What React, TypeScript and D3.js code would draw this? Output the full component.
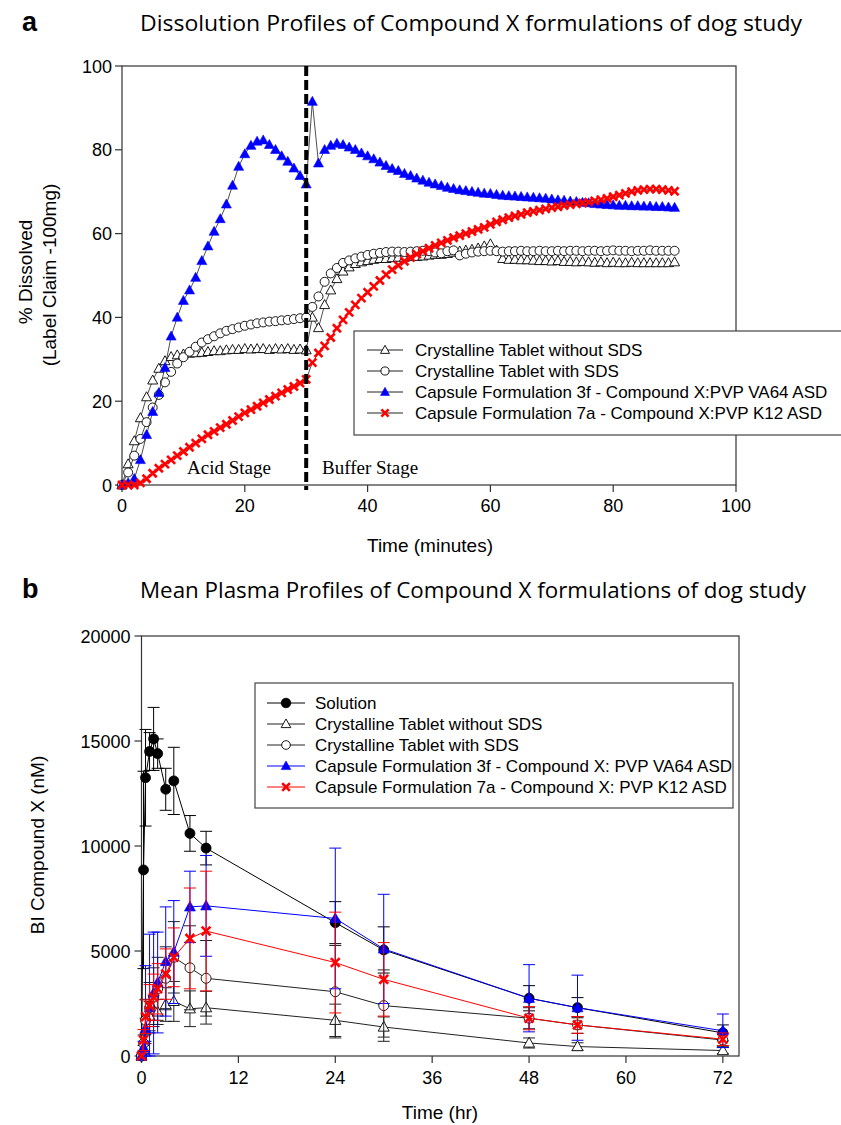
import React from 'react';
import * as d3 from 'd3';

// ---------- Panel a data (dissolution, % dissolved, sampled every minute) ----------
const minutes = d3.range(0, 91);
const tabletNoSds = [
  0, 5, 10.5, 16, 21, 25, 27.8, 29.6, 30.6, 31, 31.2, 31.4, 31.5, 31.6, 31.8, 32, 32, 32.2, 32.3, 32.3, 32.5,
  32.4, 32.5, 32.5, 32.3, 32.5, 32.4, 32.5, 32.3, 32.4, 32.2,
  40, 37.5, 43, 46.5, 49.2, 51, 52, 52.8, 53.2, 53.5, 53.8, 54, 54, 54.2, 54.3, 54.3, 54.5, 54.5, 54.6, 54.8,
  55, 55, 55.2, 55.5, 55.8, 56, 56.2, 56.5, 57, 57.5, 56, 54, 53.8, 53.8, 53.7, 53.7, 53.6, 53.5, 53.5, 53.4,
  53.5, 53.3, 53.3, 53.2, 53.3, 53.2, 53.1, 53.2, 53, 53.1, 53, 53, 53.1, 53, 53, 53, 53, 53, 53, 53.2,
];
const tabletSds = [
  0, 3, 7, 11, 15, 18.5, 21.5, 24.5, 27, 29, 30.5, 31.8, 33, 34, 34.8, 35.5, 36.2, 36.8, 37.2, 37.6, 38,
  38.3, 38.6, 38.8, 39, 39.1, 39.3, 39.4, 39.6, 39.8, 40,
  42.5, 45, 48.5, 50.5, 51.8, 53, 53.6, 54.1, 54.5, 54.9, 55.2, 55.4, 55.6, 55.7, 55.7, 55.6, 55.7, 55.8, 55.9, 55.8,
  55.5, 55.3, 55.8, 56, 54.8, 55.2, 55.5, 55.7, 55.8, 55.9, 55.8, 55.7, 55.8, 55.8, 55.9, 55.8, 55.8, 55.9, 55.8, 55.8,
  55.9, 55.8, 55.9, 55.9, 55.8, 55.9, 55.9, 55.8, 55.9, 56, 55.9, 55.9, 55.8, 55.9, 55.9, 56, 55.9, 55.9, 55.9, 55.9,
];
const capsule3f = [
  0, 0.5, 1.5, 6, 12, 17.5, 22, 28, 35.5, 40, 44, 46.5, 49.5, 53.5, 57, 60.5, 63.5, 67, 71.5, 76, 79,
  81, 82, 82.3, 81.2, 80, 78.5, 77.2, 75.6, 73.8, 71.8,
  91.5, 76.8, 80, 81, 81.5, 81.2, 80.6, 80, 79.2, 78.5, 77.8, 77, 76.2, 75.5, 75, 74.3, 73.8, 73.2, 72.7, 72.2,
  71.8, 71.4, 71, 70.7, 70.4, 70.2, 70, 69.8, 69.6, 69.5, 69.3, 69.1, 69, 68.9, 68.8, 68.7, 68.6, 68.5, 68.4, 68.2,
  68, 67.9, 67.7, 67.6, 67.4, 67.3, 67.1, 67, 66.9, 66.8, 66.7, 66.7, 66.6, 66.6, 66.5, 66.5, 66.4, 66.4, 66.3, 66.2,
];
const capsule7a = [
  0, 0, 0, 0.5, 1.5, 2.8, 4, 5, 6, 7, 8, 9, 10, 11, 12, 12.8, 13.7, 14.5, 15.4, 16.3, 17.2,
  18, 18.8, 19.6, 20.4, 21.2, 22, 22.8, 23.5, 24.3, 25.2,
  29.2, 31.5, 33.2, 35.2, 37.4, 39.4, 41.2, 43, 44.6, 46, 47.4, 48.8, 50.2, 51.4, 52.4, 53.4, 54.3, 55.1, 55.8, 56.5,
  57.2, 57.8, 58.4, 59, 59.5, 60, 60.5, 61, 61.5, 62.2, 62.8, 63.3, 63.8, 64.2, 64.6, 65, 65.3, 65.6, 65.9, 66.2,
  66.4, 66.7, 66.9, 67.1, 67.3, 67.5, 67.8, 68.1, 68.4, 68.8, 69.2, 69.6, 70, 70.3, 70.5, 70.6, 70.6, 70.5, 70.3, 70.1,
];
const ticksA = [0, 20, 40, 60, 80, 100];

// ---------- Panel b data (plasma concentration, nM) ----------
const hours = [0, 0.25, 0.5, 1, 1.5, 2, 3, 4, 6, 8, 24, 30, 48, 54, 72];
const solution = [0, 8860, 13250, 14500, 15100, 14400, 12700, 13100, 10600, 9900, 6350, 5050, 2750, 2300, 1100];
const solutionSd = [0, 4700, 2300, 900, 1500, 700, 1000, 1600, 850, 800, 1000, 1100, 600, 480, 380];
const plasmaNoSds = [0, 300, 1200, 1900, 2200, 2100, 2450, 2600, 2250, 2300, 1700, 1380, 620, 450, 260];
const plasmaNoSdsSd = [0, 200, 600, 700, 700, 600, 800, 950, 850, 780, 770, 480, 240, 180, 150];
const plasmaSds = [0, 600, 1700, 2300, 2800, 3200, 3700, 4700, 4200, 3700, 3060, 2400, 1800, 1480, 760];
const plasmaSdsSd = [0, 400, 1000, 1200, 1400, 1500, 1500, 1700, 2000, 1800, 2200, 1700, 500, 400, 300];
const plasma3f = [0, 400, 1300, 2300, 3000, 3500, 4500, 4950, 7100, 7150, 6550, 5100, 2750, 2300, 1200];
const plasma3fSd = [0, 300, 3000, 3500, 2900, 2400, 2600, 2450, 1700, 2400, 3350, 2600, 1600, 1550, 800];
const plasma7a = [0, 760, 1870, 2400, 2800, 3200, 3900, 4700, 5600, 5950, 4450, 3650, 1800, 1480, 800];
const plasma7aSd = [0, 500, 800, 1000, 1100, 1200, 1200, 1400, 2400, 2850, 2400, 1750, 550, 400, 300];
const ticksBx = [0, 12, 24, 36, 48, 60, 72];
const ticksBy = [0, 5000, 10000, 15000, 20000];

const legendA = [
  'Crystalline Tablet without SDS',
  'Crystalline Tablet with SDS',
  'Capsule Formulation 3f - Compound X:PVP VA64 ASD',
  'Capsule Formulation 7a - Compound X:PVP K12 ASD',
];
const legendB = [
  'Solution',
  'Crystalline Tablet without SDS',
  'Crystalline Tablet with SDS',
  'Capsule Formulation 3f - Compound X: PVP VA64 ASD',
  'Capsule Formulation 7a - Compound X: PVP K12 ASD',
];

const SANS = '"Liberation Sans", Arial, sans-serif';
const SERIF = '"Liberation Serif", "Times New Roman", serif';
const TITLE = '"Open Sans", "Noto Sans", sans-serif';

type MarkerKind = 'solid-circle' | 'open-tri' | 'open-circle' | 'blue-tri' | 'red-x';

function Marker({ kind, x, y, s }: { kind: MarkerKind; x: number; y: number; s: number }) {
  if (kind === 'solid-circle') return <circle cx={x} cy={y} r={s} fill="#000" stroke="#000" strokeWidth={0.8} />;
  if (kind === 'open-circle') return <circle cx={x} cy={y} r={s * 0.9} fill="#fff" stroke="#000" strokeWidth={0.9} />;
  if (kind === 'open-tri' || kind === 'blue-tri') {
    const d = `M${x},${y - s * 1.05} L${x + s * 1.0},${y + s * 0.75} L${x - s * 1.0},${y + s * 0.75} Z`;
    return kind === 'open-tri'
      ? <path d={d} fill="#fff" stroke="#000" strokeWidth={0.9} />
      : <path d={d} fill="#0000ff" stroke="#0000ff" strokeWidth={0.6} />;
  }
  const k = s * 0.8;
  return (
    <g stroke="#ff0000" strokeWidth={2.6} strokeLinecap="butt">
      <line x1={x - k} y1={y - k} x2={x + k} y2={y + k} />
      <line x1={x - k} y1={y + k} x2={x + k} y2={y - k} />
    </g>
  );
}

const A = { left: 122, right: 736, top: 66, bottom: 485 };
const B = { left: 141.5, right: 739, top: 636, bottom: 1056 };

export default function App() {
  const xa = d3.scaleLinear().domain([0, 100]).range([A.left, A.right]);
  const ya = d3.scaleLinear().domain([0, 100]).range([A.bottom, A.top]);
  const xb = d3.scaleLinear().domain([0, 74]).range([B.left, B.right]);
  const yb = d3.scaleLinear().domain([0, 20000]).range([B.bottom, B.top]);

  const lineA = d3.line<number>().x((_, i) => xa(minutes[i])).y((d) => ya(d));
  const lineB = d3.line<number>().x((_, i) => xb(hours[i])).y((d) => yb(d));

  const seriesA: { vals: number[]; kind: MarkerKind; s: number }[] = [
    { vals: tabletNoSds, kind: 'open-tri', s: 5 },
    { vals: tabletSds, kind: 'open-circle', s: 5 },
    { vals: capsule3f, kind: 'blue-tri', s: 5 },
    { vals: capsule7a, kind: 'red-x', s: 5 },
  ];

  const seriesB: { vals: number[]; sd: number[]; kind: MarkerKind; color: string; s: number }[] = [
    { vals: solution, sd: solutionSd, kind: 'solid-circle', color: '#000', s: 5 },
    { vals: plasmaNoSds, sd: plasmaNoSdsSd, kind: 'open-tri', color: '#222', s: 5.5 },
    { vals: plasmaSds, sd: plasmaSdsSd, kind: 'open-circle', color: '#222', s: 5.5 },
    { vals: plasma3f, sd: plasma3fSd, kind: 'blue-tri', color: '#0000ff', s: 5.5 },
    { vals: plasma7a, sd: plasma7aSd, kind: 'red-x', color: '#ff0000', s: 5.5 },
  ];
  const legendKindsB: MarkerKind[] = ['solid-circle', 'open-tri', 'open-circle', 'blue-tri', 'red-x'];
  const legendColorsB = ['#000', '#222', '#222', '#0000ff', '#ff0000'];
  const legendKindsA: MarkerKind[] = ['open-tri', 'open-circle', 'blue-tri', 'red-x'];

  return (
    <svg width={841} height={1125} style={{ position: 'absolute', left: 0, top: 0, background: '#fff' }}
      fontFamily={SANS}>
      <rect x={0} y={0} width={841} height={1125} fill="#fff" />

      {/* ================= Panel a ================= */}
      <text x={22} y={31} fontSize={27} fontWeight="bold" fontFamily={SANS}>a</text>
      <text x={140} y={31} fontSize={21} fontFamily={TITLE} textLength={662} lengthAdjust="spacingAndGlyphs">
        Dissolution Profiles of Compound X formulations of dog study
      </text>

      <rect x={A.left} y={A.top} width={A.right - A.left} height={A.bottom - A.top} fill="none" stroke="#333" strokeWidth={1.2} />
      {ticksA.map((t) => (
        <g key={'ya' + t}>
          <line x1={A.left - 7} x2={A.left} y1={ya(t)} y2={ya(t)} stroke="#333" strokeWidth={1.2} />
          <text x={A.left - 10} y={ya(t) + 6.5} fontSize={18} textAnchor="end">{t}</text>
        </g>
      ))}
      {ticksA.map((t) => (
        <g key={'xa' + t}>
          <line x1={xa(t)} x2={xa(t)} y1={A.bottom} y2={A.bottom + 7} stroke="#333" strokeWidth={1.2} />
          <text x={xa(t)} y={512} fontSize={18} textAnchor="middle">{t}</text>
        </g>
      ))}
      <text x={430} y={552} fontSize={19} textAnchor="middle">Time (minutes)</text>
      <text transform="translate(32,272) rotate(-90)" fontSize={19} textAnchor="middle">% Dissolved</text>
      <text transform="translate(56,275) rotate(-90)" fontSize={19} textAnchor="middle">(Label Claim -100mg)</text>

      <text x={187} y={474} fontSize={19} fontFamily={SERIF}>Acid Stage</text>
      <text x={322} y={474} fontSize={19} fontFamily={SERIF}>Buffer Stage</text>

      {seriesA.map((s, si) => (
        <g key={'sa' + si}>
          <path d={lineA(s.vals) || ''} fill="none" stroke="#222" strokeWidth={0.8} />
          {s.vals.map((v, i) => (
            <Marker key={i} kind={s.kind} x={xa(minutes[i])} y={ya(v)} s={s.s} />
          ))}
        </g>
      ))}

      <line x1={xa(30)} x2={xa(30)} y1={A.top} y2={A.bottom + 5} stroke="#000" strokeWidth={4} strokeDasharray="10,4" />

      <rect x={354} y={331} width={520} height={104} fill="#fff" stroke="#444" strokeWidth={1.2} />
      {legendA.map((label, i) => {
        const cy = 350 + i * 21;
        return (
          <g key={'la' + i}>
            <line x1={367} x2={403} y1={cy} y2={cy} stroke="#222" strokeWidth={1} />
            <Marker kind={legendKindsA[i]} x={385} y={cy} s={4.5} />
            <text x={415} y={cy + 6} fontSize={17}>{label}</text>
          </g>
        );
      })}

      {/* ================= Panel b ================= */}
      <text x={22} y={598} fontSize={27} fontWeight="bold" fontFamily={SANS}>b</text>
      <text x={140} y={598} fontSize={21} fontFamily={TITLE} textLength={666} lengthAdjust="spacingAndGlyphs">
        Mean Plasma Profiles of Compound X formulations of dog study
      </text>

      <rect x={B.left} y={B.top} width={B.right - B.left} height={B.bottom - B.top} fill="none" stroke="#333" strokeWidth={1.2} />
      {ticksBy.map((t) => (
        <g key={'yb' + t}>
          <line x1={B.left - 7} x2={B.left} y1={yb(t)} y2={yb(t)} stroke="#333" strokeWidth={1.2} />
          <text x={B.left - 11} y={yb(t) + 6.5} fontSize={18} textAnchor="end">{t}</text>
        </g>
      ))}
      {ticksBx.map((t) => (
        <g key={'xb' + t}>
          <line x1={xb(t)} x2={xb(t)} y1={B.bottom} y2={B.bottom + 7} stroke="#333" strokeWidth={1.2} />
          <text x={xb(t)} y={1084} fontSize={18} textAnchor="middle">{t}</text>
        </g>
      ))}
      <text x={440} y={1119} fontSize={19} textAnchor="middle">Time (hr)</text>
      <text transform="translate(44,845) rotate(-90)" fontSize={19} textAnchor="middle">BI Compound X (nM)</text>

      {seriesB.map((s, si) => (
        <g key={'sb' + si}>
          {s.vals.map((v, i) => {
            if (!s.sd[i]) return null;
            const x = xb(hours[i]);
            const hi = yb(v + s.sd[i]);
            const lo = yb(Math.max(0, v - s.sd[i]));
            return (
              <g key={'e' + i} stroke={s.color} strokeWidth={1}>
                <line x1={x} x2={x} y1={hi} y2={lo} />
                <line x1={x - 6} x2={x + 6} y1={hi} y2={hi} />
                <line x1={x - 6} x2={x + 6} y1={lo} y2={lo} />
              </g>
            );
          })}
          <path d={lineB(s.vals) || ''} fill="none" stroke={s.color} strokeWidth={1} />
          {s.vals.map((v, i) => (
            <Marker key={i} kind={s.kind} x={xb(hours[i])} y={yb(v)} s={s.s} />
          ))}
        </g>
      ))}

      <rect x={255} y={683} width={478} height={125} fill="#fff" stroke="#444" strokeWidth={1.2} />
      {legendB.map((label, i) => {
        const cy = 703 + i * 21;
        return (
          <g key={'lb' + i}>
            <line x1={267} x2={305} y1={cy} y2={cy} stroke={legendColorsB[i]} strokeWidth={1} />
            <Marker kind={legendKindsB[i]} x={286} y={cy} s={4.8} />
            <text x={315} y={cy + 6} fontSize={17}>{label}</text>
          </g>
        );
      })}
    </svg>
  );
}
